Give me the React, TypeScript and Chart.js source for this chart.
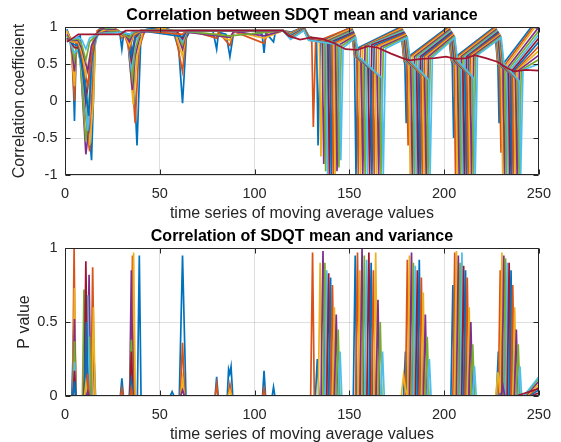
import React, { useEffect, useRef } from "react";
import { Chart, registerables } from "chart.js";

Chart.register(...registerables);

// ---------- axis ticks / labels ----------
const xTickValues = [0, 50, 100, 150, 200, 250];
const corrTickValues = [-1, -0.5, 0, 0.5, 1];
const pTickValues = [0, 0.5, 1];
const lineColors = ["#0072BD", "#D95319", "#EDB120", "#7E2F8E", "#77AC30", "#4DBEEE", "#A2142F"];
const topTitle = "Correlation between SDQT mean and variance";
const bottomTitle = "Correlation of SDQT mean and variance";
const topYLabel = "Correlation coefficient";
const bottomYLabel = "P value";
const xLabel = "time series of moving average values";

// ---------- correlation coefficient series (x, y pairs) ----------
const corrK0 = [1,0.97, 2,0.9, 4,0.6, 5,-0.27, 6,0.85, 8,0.88, 11,0.2, 14,-0.8, 16,0.85, 18,0.97, 22,1.0, 27,0.97, 29,0.9, 30,0.7, 31,0.92, 34,0.9, 36,0.5, 38,-0.6, 40,0.85, 43,0.97, 52,0.99, 57,0.95, 60,0.7, 62,-0.03, 64,0.85, 66,0.95, 78,0.95, 80,0.7, 81,0.93, 85,0.9, 87,0.6, 89,0.93, 100,0.95, 104,0.9, 105,0.65, 106,0.92, 110,0.8, 111,0.93, 115,0.95, 119,0.93, 126,1.0, 128.5,0.88, 132.7,0.82, 133.5,-0.6, 134.7,0.8, 151,1.0, 152.7,0.62, 153.5,-1, 154.7,0.72, 177,1.0, 178.8,0.55, 179.3,0.5, 180,-0.3, 181.2,0.6, 202,1.0, 203.8,0.55, 204.3,0.5, 205,-0.5, 206.2,0.6, 226.5,1.0, 228.3,0.5, 228.4,0.45, 229,-0.3, 230.2,0.47, 246,1.0, 250,0.98];
const corrK1 = [1,0.93, 3,0.85, 5,0.0, 6,0.8, 8,0.8, 10,0.0, 13,-0.68, 15,0.6, 17,0.95, 22,1.0, 28,0.96, 30,0.85, 31,0.92, 34,0.88, 37,-0.3, 39,0.7, 42,0.95, 52,0.98, 58,0.93, 62,0.4, 64,0.9, 66,0.95, 80,0.85, 81,0.93, 87,0.75, 89,0.94, 105,0.78, 107,0.93, 115,0.95, 119,0.92, 126,1.0, 128.5,0.87, 130.2,0.8, 131,-0.35, 132.2,0.8, 151,0.99, 152.8,0.6, 153.9,0.58, 154.7,-1, 155.9,0.72, 177.3,0.99, 178.9,0.55, 180.2,0.52, 181,-0.6, 182.2,0.6, 202.3,0.99, 203.9,0.55, 205.2,0.52, 206,-1, 207.2,0.6, 226.8,0.99, 228.4,0.5, 229.2,0.48, 230,-0.7, 231.2,0.46, 247,1.0, 250,1.0];
const corrK2 = [1,0.95, 3,0.82, 5,0.2, 6,0.8, 9,0.6, 13,-0.6, 15,0.0, 16,0.8, 18,0.95, 24,0.99, 28,0.95, 30,0.88, 33,0.88, 36,-0.05, 38,0.6, 41,0.94, 52,0.98, 58,0.93, 62,0.6, 64,0.93, 80,0.9, 87,0.82, 89,0.94, 105,0.85, 115,0.95, 119,0.914, 126,0.99, 128.5,0.87, 134.2,0.8, 135,-0.75, 136.2,0.8, 151.3,0.98, 153,0.6, 155.1,0.55, 155.9,-1, 157.1,0.73, 177.6,0.98, 179.1,0.55, 181.3,0.5, 182.1,-1, 183.3,0.6, 202.6,0.98, 204.1,0.55, 206.1,0.5, 206.9,-1, 208.1,0.6, 227.1,0.98, 228.6,0.5, 230.1,0.46, 230.9,-1, 232.1,0.45, 248,1.0, 250,1.0];
const corrK3 = [1,0.9, 3,0.8, 5,0.4, 6,0.78, 8,0.6, 11,-0.72, 12,-0.5, 14,0.5, 16,0.9, 20,0.98, 28,0.95, 30,0.9, 33,0.85, 35.5,0.15, 37,0.6, 40,0.93, 55,0.96, 59,0.92, 62,0.7, 64,0.93, 87,0.86, 89,0.94, 105,0.88, 115,0.95, 119,0.906, 126,0.99, 128.5,0.86, 135.7,0.8, 136.5,-0.85, 137.7,0.8, 151.5,0.964, 153.2,0.6, 156.3,0.53, 157.1,-1, 158.3,0.74, 177.9,0.964, 179.4,0.55, 182.4,0.48, 183.2,-1, 184.4,0.6, 202.9,0.964, 204.4,0.55, 207.1,0.48, 207.9,-1, 209.1,0.6, 227.4,0.964, 228.9,0.5, 231.1,0.44, 231.9,-1, 233.1,0.44, 250,1.0];
const corrK4 = [1,0.88, 3,0.8, 5,0.55, 6,0.75, 8,0.55, 11,-0.55, 12.5,-0.1, 14,0.6, 17,0.92, 22,0.98, 29,0.93, 33,0.85, 35.5,0.3, 37,0.7, 40,0.95, 55,0.96, 59,0.93, 62,0.76, 64,0.94, 87,0.88, 115,0.95, 119,0.898, 126,0.984, 128.5,0.86, 136.7,0.8, 137.5,-0.95, 138.7,0.8, 151.7,0.952, 153.4,0.6, 157.5,0.51, 158.3,-1, 159.5,0.75, 178.2,0.952, 179.7,0.55, 183.4,0.46, 184.2,-1, 185.4,0.6, 203.2,0.952, 204.7,0.55, 208,0.47, 208.8,-1, 210,0.6, 227.7,0.952, 229.2,0.5, 232,0.43, 232.8,-1, 234,0.43, 250,0.95];
const corrK5 = [1,0.86, 3,0.78, 5,0.65, 7,0.7, 9,0.4, 12,-0.4, 13.5,0.2, 15,0.7, 18,0.95, 25,0.97, 30,0.92, 33,0.87, 35,0.45, 37,0.8, 40,0.95, 59,0.93, 62,0.8, 64,0.94, 115,0.95, 119,0.89, 126,0.98, 128.5,0.85, 137.7,0.8, 138.5,-1, 139.7,0.8, 151.9,0.94, 153.6,0.6, 158.7,0.48, 159.5,-1, 160.7,0.76, 178.5,0.94, 180,0.55, 184.4,0.44, 185.2,-1, 186.4,0.6, 203.5,0.94, 205,0.55, 209,0.45, 209.8,-1, 211,0.6, 228,0.94, 229.5,0.5, 233,0.41, 233.8,-1, 235,0.42, 250,0.9];
const corrK6 = [1,0.85, 3,0.8, 5,0.72, 7,0.72, 9,0.5, 11,0.0, 12.5,0.3, 15,0.8, 18,0.95, 26,0.96, 31,0.92, 33,0.88, 35,0.55, 37,0.85, 40,0.95, 59,0.94, 62,0.84, 64,0.95, 115,0.95, 119,0.88, 126,0.976, 128.5,0.85, 138.7,0.8, 139.5,-1, 140.7,0.8, 152.1,0.928, 153.8,0.6, 159.9,0.46, 160.7,-1, 161.9,0.76, 178.8,0.928, 180.3,0.55, 185.5,0.42, 186.3,-1, 187.5,0.6, 203.8,0.928, 205.3,0.55, 209.9,0.43, 210.7,-1, 211.9,0.6, 228.3,0.928, 229.8,0.5, 233.9,0.39, 234.7,-1, 235.9,0.41, 250,0.85];
const corrK7 = [1,0.84, 3,0.8, 5,0.76, 7,0.75, 10,0.3, 12.5,-0.2, 14,0.5, 16,0.85, 19,0.95, 27,0.95, 31,0.92, 33,0.9, 35,0.62, 37,0.88, 40,0.95, 62,0.87, 64,0.95, 115,0.95, 119,0.874, 126,0.972, 128.5,0.84, 139.7,0.8, 140.5,-1, 141.7,0.8, 152.3,0.916, 154,0.6, 161.1,0.43, 161.9,-1, 163.1,0.75, 179.1,0.916, 180.6,0.55, 186.5,0.4, 187.3,-1, 188.5,0.6, 204.1,0.916, 205.6,0.55, 210.9,0.41, 211.7,-1, 212.9,0.61, 228.6,0.916, 230.1,0.5, 234.9,0.37, 235.7,-1, 236.9,0.41, 250,0.8];
const corrK8 = [1,0.83, 4,0.8, 7,0.78, 9,0.6, 12,0.2, 14,0.6, 16,0.88, 20,0.95, 28,0.94, 31,0.92, 34,0.7, 36,0.88, 40,0.95, 62,0.9, 64,0.95, 115,0.95, 119,0.866, 126,0.968, 128.5,0.84, 140.7,0.8, 141.5,-1, 142.7,0.79, 152.5,0.904, 154.2,0.6, 162.3,0.41, 163.1,-1, 164.3,0.74, 179.4,0.904, 180.9,0.55, 187.6,0.37, 188.4,-1, 189.6,0.6, 204.4,0.904, 205.9,0.55, 211.8,0.39, 212.6,-1, 213.8,0.62, 228.9,0.904, 230.4,0.5, 235.8,0.35, 236.6,-1, 237.8,0.41, 250,0.74];
const corrK9 = [1,0.82, 4,0.8, 7,0.8, 9,0.65, 11,0.35, 13,0.6, 15,0.85, 20,0.95, 28,0.94, 31,0.93, 34,0.75, 36,0.9, 40,0.95, 115,0.95, 119,0.858, 126,0.964, 128.5,0.83, 141.7,0.79, 142.5,-1, 143.7,0.78, 152.7,0.892, 154.4,0.6, 163.5,0.39, 164.3,-1, 165.5,0.74, 179.7,0.892, 181.2,0.55, 188.6,0.35, 189.4,-1, 190.6,0.6, 204.7,0.892, 206.2,0.55, 212.8,0.37, 213.6,-1, 214.8,0.62, 229.2,0.892, 230.7,0.5, 236.8,0.33, 237.6,-1, 238.8,0.42, 250,0.68];
const corrK10 = [1,0.82, 4,0.82, 7,0.82, 9,0.7, 12,0.4, 14,0.75, 17,0.9, 22,0.94, 29,0.93, 31,0.93, 34,0.8, 36,0.92, 40,0.95, 115,0.95, 119,0.85, 126,0.96, 128.5,0.83, 142.7,0.78, 143.5,-0.95, 144.7,0.76, 152.9,0.88, 154.6,0.6, 164.7,0.36, 165.5,-1, 166.7,0.73, 180,0.88, 181.5,0.55, 189.7,0.33, 190.5,-1, 191.7,0.6, 205,0.88, 206.5,0.55, 213.7,0.35, 214.5,-1, 215.7,0.62, 229.5,0.88, 231,0.5, 237.7,0.31, 238.5,-1, 239.7,0.42, 250,0.62];
const corrK11 = [1,0.81, 4,0.83, 7,0.84, 9,0.75, 11,0.55, 13,0.8, 17,0.9, 24,0.93, 30,0.93, 34,0.85, 36,0.93, 40,0.95, 115,0.95, 119,0.842, 126,0.956, 128.5,0.82, 143.7,0.77, 144.5,-0.9, 145.7,0.74, 153.1,0.868, 154.8,0.6, 165.9,0.34, 166.7,-1, 167.9,0.72, 180.3,0.868, 181.8,0.55, 190.7,0.31, 191.5,-1, 192.7,0.59, 205.3,0.868, 206.8,0.55, 214.7,0.33, 215.5,-1, 216.7,0.62, 229.8,0.868, 231.3,0.5, 238.7,0.29, 239.5,-1, 240.7,0.42, 250,0.56];
const corrK12 = [1,0.8, 4,0.84, 7,0.86, 9,0.82, 11,0.7, 13,0.85, 18,0.91, 26,0.92, 30,0.93, 34,0.9, 36,0.94, 40,0.95, 115,0.95, 119,0.834, 126,0.952, 128.5,0.82, 144.7,0.76, 145.5,-0.8, 146.7,0.72, 153.3,0.856, 155,0.6, 167.1,0.31, 167.9,-1, 169.1,0.71, 180.6,0.856, 182.1,0.55, 191.8,0.29, 192.6,-1, 193.8,0.59, 205.6,0.856, 207.1,0.55, 215.6,0.31, 216.4,-1, 217.6,0.62, 230.1,0.856, 231.6,0.5, 239.6,0.27, 240.4,-1, 241.6,0.42, 250,0.5];
const corrK13 = [1,0.8, 3,0.83, 7,0.9, 29,0.9, 32,0.95, 115,0.95, 118,0.88, 124,0.83, 130,0.86, 136,0.84, 142,0.78, 148,0.7, 154,0.69, 160,0.74, 165,0.72, 172,0.64, 178,0.58, 182,0.55, 188,0.57, 195,0.58, 201,0.6, 206,0.57, 212,0.58, 216,0.62, 222,0.58, 228,0.53, 233,0.45, 237,0.4, 243,0.42, 250,0.41];

// ---------- P value series (x, y pairs) ----------
const pK0 = [1,0, 3.6,0, 4.6,0.45, 5.5,0, 10.5,0, 11.5,0.55, 12.4,0, 14.2,0, 15.2,0.3, 16.1,0, 29.2,0, 30,0.12, 30.8,0, 38.2,0, 39.2,0.95, 40.1,0, 55.5,0, 56.5,0.03, 57.5,0, 60.3,0, 62,0.95, 63.8,0, 79.2,0, 80,0.13, 80.8,0, 85.6,0, 86.3,0.18, 86.9,0.15, 87.6,0.2, 88.5,0, 104.2,0, 105,0.17, 105.8,0, 109.3,0, 110,0.06, 110.7,0, 132.1,0, 133.1,0.25, 134,0, 152.1,0, 153.1,0.95, 154,0, 178.6,0, 179.6,0.3, 180.5,0, 203.6,0, 204.6,0.75, 205.5,0, 227.6,0, 228.6,0.3, 229.5,0, 250,0];
const pK1 = [1,0, 4,0, 4.8,1.0, 5.6,0, 9.7,0, 10.5,0.15, 11.3,0, 13.7,0, 14.6,0.87, 15.5,0, 29.3,0, 30,0.05, 30.7,0, 34.7,0, 35.6,0.95, 36.5,0, 60.8,0, 62,0.36, 63.2,0, 79.3,0, 80,0.08, 80.7,0, 86,0, 87,0.08, 88,0, 104.3,0, 105,0.05, 105.7,0, 129.6,0, 130.6,0.97, 131.5,0, 153.3,0, 154.3,0.97, 155.2,0, 179.6,0, 180.6,0.92, 181.5,0, 204.6,0, 205.6,0.97, 206.5,0, 228.6,0, 229.6,0.85, 230.5,0, 250,0];
const pK2 = [1,0, 4.2,0, 5,0.73, 5.8,0, 14.1,0, 15,0.6, 15.9,0, 35.3,0, 36.2,0.97, 37.1,0, 61,0, 62,0.12, 63,0, 86,0, 87,0.04, 88,0, 133.6,0, 134.6,0.9, 135.5,0, 154.5,0, 155.5,0.85, 156.4,0, 177.4,0, 178.6,0.14, 179.8,0.03, 180.7,0, 181.7,0.95, 182.6,0, 205.5,0, 206.5,0.98, 207.4,0, 227.2,0, 228.4,0.16, 229.5,0.02, 230.5,0.97, 231.4,0, 250,0];
const pK3 = [1,0, 4.2,0, 5,0.52, 5.8,0, 11.8,0, 12.7,0.82, 13.6,0, 34.1,0, 35,0.85, 35.9,0, 61,0, 62,0.04, 63,0, 135.1,0, 136.1,0.98, 137,0, 155.7,0, 156.7,1.0, 157.6,0, 181.8,0, 182.8,0.97, 183.7,0, 206.5,0, 207.5,0.95, 208.4,0, 230.5,0, 231.5,0.95, 232.4,0, 250,0];
const pK4 = [1,0, 4.2,0, 5,0.37, 5.8,0, 9.2,0, 10,0.72, 10.8,0, 12.2,0, 13,0.4, 13.8,0, 34,0, 35,0.38, 36,0, 136.1,0, 137.1,0.9, 138,0, 156.9,0, 157.9,0.95, 158.8,0, 182.8,0, 183.8,0.9, 184.7,0, 207.4,0, 208.4,0.9, 209.3,0, 231.4,0, 232.4,0.93, 233.3,0, 250,0];
const pK5 = [1,0, 4.2,0, 5,0.23, 5.8,0, 11.1,0, 12,0.68, 12.9,0, 34,0, 35,0.2, 36,0, 137.1,0, 138.1,0.85, 139,0, 158.1,0, 159.1,0.92, 160,0, 183.8,0, 184.8,0.88, 185.7,0, 208.4,0, 209.4,0.97, 210.3,0, 232.4,0, 233.4,0.9, 234.3,0, 250,0];
const pK6 = [1,0, 4.2,0, 5,0.17, 5.8,0, 10.1,0, 11,0.91, 11.9,0, 34.1,0, 35,0.3, 35.9,0, 138.1,0, 139.1,0.83, 140,0, 159.3,0, 160.3,0.97, 161.2,0, 184.9,0, 185.9,0.85, 186.8,0, 209.3,0, 210.3,0.88, 211.2,0, 233.3,0, 234.3,0.9, 235.2,0, 245,0, 250,0.02];
const pK7 = [1,0, 4.3,0, 5,0.1, 5.7,0, 10.3,0, 11.2,0.5, 12.1,0, 34.2,0, 35,0.1, 35.8,0, 139.1,0, 140.1,0.8, 141,0, 160.5,0, 161.5,0.9, 162.4,0, 185.9,0, 186.9,0.92, 187.8,0, 210.3,0, 211.3,0.85, 212.2,0, 234.3,0, 235.3,0.85, 236.2,0, 244.5,0, 250,0.04];
const pK8 = [1,0, 11.2,0, 12,0.15, 12.8,0, 34.3,0, 35,0.05, 35.7,0, 140.1,0, 141.1,0.75, 142,0, 161.7,0, 162.7,0.85, 163.6,0, 187,0, 188,0.8, 188.9,0, 211.2,0, 212.2,0.8, 213.1,0, 235.2,0, 236.2,0.75, 237.1,0, 244,0, 250,0.06];
const pK9 = [1,0, 10.3,0, 11,0.08, 11.7,0, 141.1,0, 142.1,0.6, 143,0, 162.9,0, 163.9,0.97, 164.8,0, 188,0, 189,0.7, 189.9,0, 212.2,0, 213.2,0.6, 214.1,0, 236.2,0, 237.2,0.6, 238.1,0, 243.5,0, 250,0.08];
const pK10 = [1,0, 11.3,0, 12,0.03, 12.7,0, 142.1,0, 143.1,0.55, 144,0, 164.1,0, 165.1,0.65, 166,0, 189.1,0, 190.1,0.55, 191,0, 213.1,0, 214.1,0.5, 215,0, 230,0, 231,0.07, 232,0, 237.1,0, 238.1,0.45, 239,0, 243,0, 250,0.1];
const pK11 = [1,0, 143.1,0, 144.1,0.45, 145,0, 165.3,0, 166.3,0.5, 167.2,0, 190.1,0, 191.1,0.4, 192,0, 214.1,0, 215.1,0.35, 216,0, 238.1,0, 239.1,0.35, 240,0, 242.5,0, 250,0.12];
const pK12 = [1,0, 144.1,0, 145.1,0.3, 146,0, 166.5,0, 167.5,0.3, 168.4,0, 191.2,0, 192.2,0.25, 193.1,0, 215,0, 216,0.2, 216.9,0, 239,0, 240,0.2, 240.9,0, 242,0, 250,0.13];
const pK13 = [1,0, 238,0, 250,0.05];

const corrSeries = [corrK0, corrK1, corrK2, corrK3, corrK4, corrK5, corrK6, corrK7, corrK8, corrK9, corrK10, corrK11, corrK12, corrK13];
const pSeries = [pK0, pK1, pK2, pK3, pK4, pK5, pK6, pK7, pK8, pK9, pK10, pK11, pK12, pK13];

const FONT = 'Arial, "Liberation Sans", Helvetica, sans-serif';
const AXIS_COLOR = "#262626";

function toPoints(flat: number[]) {
  const pts: { x: number; y: number }[] = [];
  for (let i = 0; i + 1 < flat.length; i += 2) pts.push({ x: flat[i], y: flat[i + 1] });
  return pts;
}

const matlabFrame = {
  id: "matlabFrame",
  afterDatasetsDraw(chart: any) {
    const { ctx, chartArea: a, scales } = chart;
    const L = Math.round(a.left) + 0.5;
    const R = Math.round(a.right) - 0.5;
    const T = Math.round(a.top) + 0.5;
    const B = Math.round(a.bottom) - 0.5;
    ctx.save();
    ctx.strokeStyle = AXIS_COLOR;
    ctx.lineWidth = 1;
    ctx.beginPath();
    ctx.rect(L, T, R - L, B - T);
    const tl = 5;
    scales.x.ticks.forEach((t: any) => {
      const px = Math.round(scales.x.getPixelForValue(t.value)) + 0.5;
      ctx.moveTo(px, B);
      ctx.lineTo(px, B - tl);
      ctx.moveTo(px, T);
      ctx.lineTo(px, T + tl);
    });
    scales.y.ticks.forEach((t: any) => {
      const py = Math.round(scales.y.getPixelForValue(t.value)) + 0.5;
      ctx.moveTo(L, py);
      ctx.lineTo(L + tl, py);
      ctx.moveTo(R, py);
      ctx.lineTo(R - tl, py);
    });
    ctx.stroke();
    ctx.restore();
  },
};

function buildConfig(
  series: number[][],
  yMin: number,
  yMax: number,
  yTicks: number[],
  title: string,
  yLabel: string,
  yLabelPad: number
) {
  const datasets = series.map((s, k) => ({
    data: toPoints(s),
    borderColor: lineColors[k % lineColors.length],
    borderWidth: 1.7,
    pointRadius: 0,
    fill: false,
    tension: 0,
    order: -k,
  }));
  return {
    type: "line" as const,
    data: { datasets },
    plugins: [matlabFrame],
    options: {
      animation: false,
      responsive: false,
      maintainAspectRatio: false,
      devicePixelRatio: 1,
      events: [],
      layout: { padding: { left: 0, right: 13, top: 0, bottom: 0 } },
      plugins: {
        legend: { display: false },
        tooltip: { enabled: false },
        title: {
          display: true,
          text: title,
          fullSize: false,
          color: "#000000",
          font: { family: FONT, size: 16, weight: "bold" },
          padding: { top: 5.7, bottom: 2.1 },
        },
      },
      scales: {
        x: {
          type: "linear",
          min: xTickValues[0],
          max: xTickValues[xTickValues.length - 1],
          afterBuildTicks: (scale: any) => {
            scale.ticks = xTickValues.map((v) => ({ value: v }));
          },
          afterFit: (scale: any) => {
            scale.height = 46;
          },
          ticks: {
            color: AXIS_COLOR,
            font: { family: FONT, size: 14.5 },
            padding: 10,
            maxRotation: 0,
            callback: (v: any) => String(v),
          },
          grid: { color: "rgba(38,38,38,0.15)", lineWidth: 1, drawTicks: false },
          border: { display: false },
          title: {
            display: true,
            text: xLabel,
            color: AXIS_COLOR,
            font: { family: FONT, size: 16 },
            padding: { top: 0, bottom: -2.5 },
          },
        },
        y: {
          type: "linear",
          min: yMin,
          max: yMax,
          afterBuildTicks: (scale: any) => {
            scale.ticks = yTicks.map((v) => ({ value: v }));
          },
          afterFit: (scale: any) => {
            scale.width = 65;
          },
          ticks: {
            color: AXIS_COLOR,
            font: { family: FONT, size: 14.5 },
            padding: 7.5,
            callback: (v: any) => String(v),
          },
          grid: { color: "rgba(38,38,38,0.15)", lineWidth: 1, drawTicks: false },
          border: { display: false },
          title: {
            display: true,
            text: yLabel,
            color: AXIS_COLOR,
            font: { family: FONT, size: 16 },
            padding: { top: yLabelPad, bottom: 0 },
          },
        },
      },
    },
  };
}

function ChartCanvas(props: {
  series: number[][];
  yMin: number;
  yMax: number;
  yTicks: number[];
  title: string;
  yLabel: string;
  yLabelPad: number;
}) {
  const ref = useRef<HTMLCanvasElement | null>(null);
  useEffect(() => {
    if (!ref.current) return;
    const chart = new Chart(
      ref.current,
      buildConfig(props.series, props.yMin, props.yMax, props.yTicks, props.title, props.yLabel, props.yLabelPad) as any
    );
    return () => chart.destroy();
  }, []);
  return <canvas ref={ref} width={561} height={221} style={{ display: "block", width: 561, height: 221 }} />;
}

export default function App() {
  return (
    <div style={{ position: "absolute", left: 0, top: 0, width: 561, height: 442, background: "#ffffff" }}>
      <ChartCanvas series={corrSeries} yMin={-1} yMax={1} yTicks={corrTickValues} title={topTitle} yLabel={topYLabel} yLabelPad={9.8} />
      <ChartCanvas series={pSeries} yMin={0} yMax={1} yTicks={pTickValues} title={bottomTitle} yLabel={bottomYLabel} yLabelPad={14.8} />
    </div>
  );
}
